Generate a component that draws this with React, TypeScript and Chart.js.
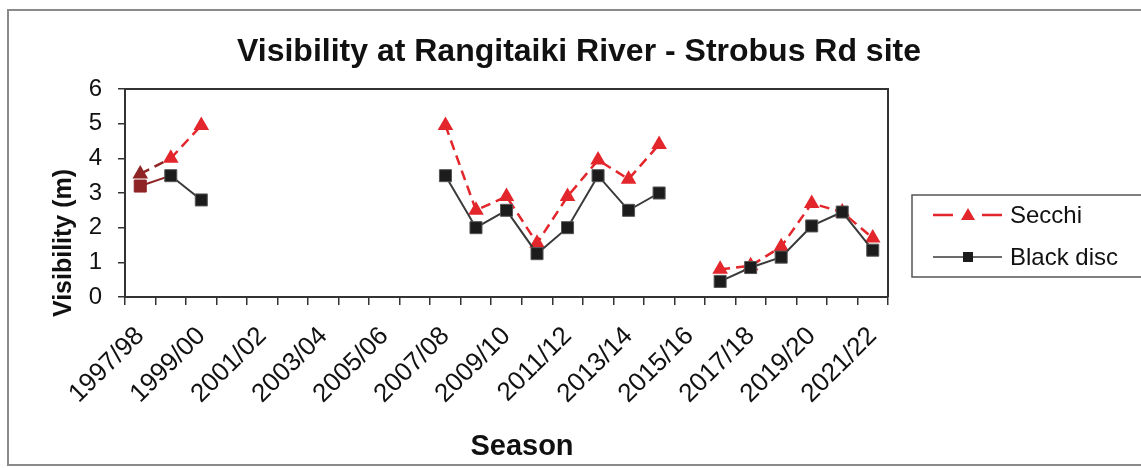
import React, { useEffect, useRef } from "react";
import { Chart, registerables } from "chart.js";

Chart.register(...registerables);

const seasons = [
  "1997/98", "1998/99", "1999/00", "2000/01", "2001/02", "2002/03", "2003/04",
  "2004/05", "2005/06", "2006/07", "2007/08", "2008/09", "2009/10", "2010/11",
  "2011/12", "2012/13", "2013/14", "2014/15", "2015/16", "2016/17", "2017/18",
  "2018/19", "2019/20", "2020/21", "2021/22",
];

const secchi = [
  3.55, 4.0, 4.95, null, null, null, null, null, null, null,
  4.95, 2.5, 2.9, 1.55, 2.9, 3.95, 3.4, 4.4, null,
  0.8, 0.9, 1.45, 2.7, 2.45, 1.7,
];

const blackDisc = [
  3.2, 3.5, 2.8, null, null, null, null, null, null, null,
  3.5, 2.0, 2.5, 1.25, 2.0, 3.5, 2.5, 3.0, null,
  0.45, 0.85, 1.15, 2.05, 2.45, 1.35,
];

const yTicks = [0, 1, 2, 3, 4, 5, 6];

const TITLE = "Visibility at Rangitaiki River - Strobus Rd site";
const Y_TITLE = "Visibility (m)";
const X_TITLE = "Season";
const SERIES_NAMES = ["Secchi", "Black disc"];

const FONT = "'Liberation Sans', Arial, sans-serif";
const RED = "#e3262b";
const DARK_RED = "#8e2426";
const BLACK = "#1c1c1c";
const LINE_GRAY = "#3a3a3a";

const decorPlugin = {
  id: "decor",
  beforeDraw(chart: any) {
    const ctx = chart.ctx;
    ctx.save();
    ctx.fillStyle = "#ffffff";
    ctx.fillRect(0, 0, chart.width, chart.height);
    ctx.strokeStyle = "#8a8a8a";
    ctx.lineWidth = 2;
    ctx.strokeRect(8, 10, chart.width + 10, 455);
    ctx.restore();
  },
  afterDraw(chart: any) {
    const ctx = chart.ctx;
    const a = chart.chartArea;
    ctx.save();
    // top & right frame of plot area
    ctx.strokeStyle = "#333333";
    ctx.lineWidth = 2;
    ctx.beginPath();
    ctx.moveTo(a.left, a.top);
    ctx.lineTo(a.right, a.top);
    ctx.lineTo(a.right, a.bottom);
    ctx.stroke();

    // chart title
    ctx.fillStyle = "#111111";
    ctx.textAlign = "center";
    ctx.textBaseline = "alphabetic";
    ctx.font = `bold 32px ${FONT}`;
    ctx.fillText(TITLE, 579, 61);

    // x axis title
    ctx.font = `bold 29px ${FONT}`;
    ctx.fillText(X_TITLE, 522, 455);

    // y axis title
    ctx.save();
    ctx.translate(71, 243);
    ctx.rotate(-Math.PI / 2);
    ctx.font = `bold 25px ${FONT}`;
    ctx.fillText(Y_TITLE, 0, 0);
    ctx.restore();

    // legend
    const lx = 912, ly = 195, lw = 240, lh = 82;
    ctx.strokeStyle = "#555555";
    ctx.lineWidth = 1.5;
    ctx.strokeRect(lx, ly, lw, lh);
    const rows = [215, 257];
    chart.data.datasets.forEach((ds: any, i: number) => {
      const y = rows[i];
      ctx.save();
      ctx.strokeStyle = ds.borderColor;
      ctx.lineWidth = i === 0 ? 2.5 : 1.5;
      ctx.beginPath();
      if (i === 0) {
        ctx.moveTo(933, y); ctx.lineTo(953, y);
        ctx.moveTo(982, y); ctx.lineTo(1002, y);
      } else {
        ctx.moveTo(933, y); ctx.lineTo(1002, y);
      }
      ctx.stroke();
      ctx.fillStyle = ds.legendMarker;
      ctx.beginPath();
      if (i === 0) {
        ctx.moveTo(968, y - 7);
        ctx.lineTo(975, y + 5);
        ctx.lineTo(961, y + 5);
        ctx.closePath();
      } else {
        ctx.rect(963, y - 5, 10, 10);
      }
      ctx.fill();
      ctx.restore();
      ctx.fillStyle = "#111111";
      ctx.textAlign = "left";
      ctx.textBaseline = "middle";
      ctx.font = `24px ${FONT}`;
      ctx.fillText(SERIES_NAMES[i], 1010, y + 1);
    });
    ctx.restore();
  },
};

export default function App() {
  const canvasRef = useRef<HTMLCanvasElement | null>(null);

  useEffect(() => {
    if (!canvasRef.current) return;
    const firstColor = (base: string) => (ctx: any) =>
      ctx.dataIndex === 0 ? DARK_RED : base;
    const chart = new Chart(canvasRef.current, {
      type: "line",
      data: {
        labels: seasons,
        datasets: [
          {
            label: SERIES_NAMES[0],
            data: secchi,
            borderColor: RED,
            borderWidth: 2.5,
            borderDash: [10, 6],
            pointStyle: "triangle",
            pointRadius: 9,
            pointBorderWidth: 0,
            pointBackgroundColor: firstColor(RED),
            pointBorderColor: firstColor(RED),
            spanGaps: false,
            order: 2,
            segment: {
              borderColor: (ctx: any) => (ctx.p0DataIndex === 0 ? DARK_RED : RED),
            },
            legendMarker: RED,
          } as any,
          {
            label: SERIES_NAMES[1],
            data: blackDisc,
            borderColor: LINE_GRAY,
            borderWidth: 2,
            pointStyle: "rect",
            pointRadius: 8.5,
            pointBorderWidth: 1,
            pointBackgroundColor: firstColor(BLACK),
            pointBorderColor: firstColor("#555555"),
            spanGaps: false,
            order: 1,
            segment: {
              borderColor: (ctx: any) => (ctx.p0DataIndex === 0 ? DARK_RED : LINE_GRAY),
            },
            legendMarker: BLACK,
          } as any,
        ],
      },
      options: {
        responsive: false,
        animation: false,
        devicePixelRatio: 1,
        layout: { padding: { top: 89, right: 253, left: 0, bottom: 0 } },
        plugins: {
          legend: { display: false },
          title: { display: false },
          tooltip: { enabled: false },
        },
        scales: {
          x: {
            type: "category",
            offset: true,
            grid: {
              display: true,
              offset: true,
              drawOnChartArea: false,
              drawTicks: true,
              tickLength: 8,
              color: "#333333",
              lineWidth: 1.5,
            },
            border: { display: true, color: "#333333", width: 2 },
            ticks: {
              autoSkip: false,
              maxRotation: 45,
              minRotation: 45,
              padding: 16,
              color: "#111111",
              font: { family: FONT, size: 26 },
              callback: (_v: any, i: number) => (i % 2 === 0 ? seasons[i] : ""),
            },
            afterFit: (scale: any) => {
              scale.height = 171;
            },
          },
          y: {
            min: yTicks[0],
            max: yTicks[yTicks.length - 1],
            afterBuildTicks: (scale: any) => {
              scale.ticks = yTicks.map((v) => ({ value: v }));
            },
            grid: {
              display: true,
              drawOnChartArea: false,
              drawTicks: true,
              tickLength: 7,
              color: "#333333",
              lineWidth: 1.5,
            },
            border: { display: true, color: "#333333", width: 2 },
            ticks: {
              padding: 16,
              color: "#111111",
              font: { family: FONT, size: 24 },
            },
            afterFit: (scale: any) => {
              scale.width = 125;
            },
          },
        },
      },
      plugins: [decorPlugin],
    });
    return () => chart.destroy();
  }, []);

  return (
    <div style={{ position: "absolute", left: 0, top: 0, width: 1141, height: 468 }}>
      <canvas ref={canvasRef} width={1141} height={468} />
    </div>
  );
}
